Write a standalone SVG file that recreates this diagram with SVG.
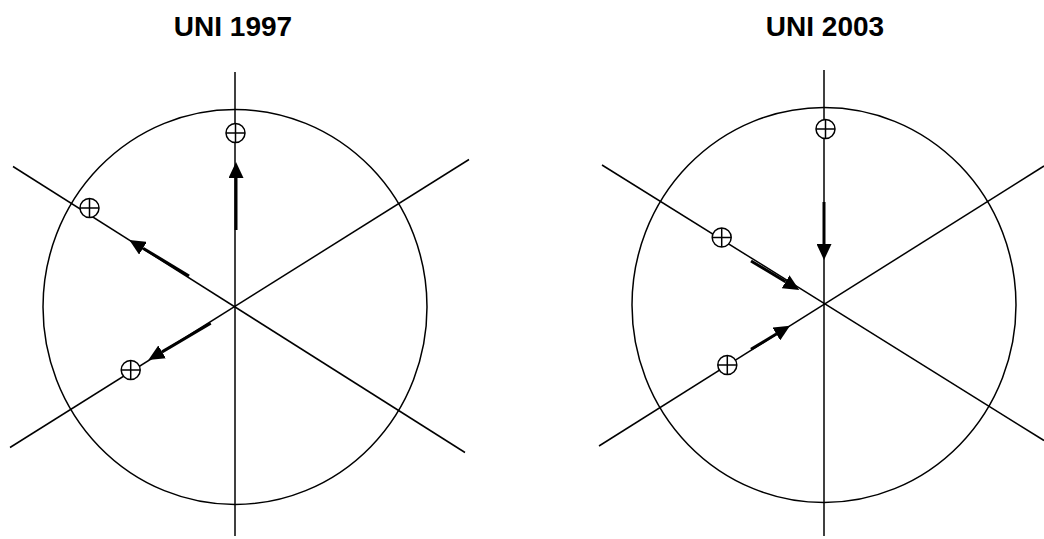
<svg xmlns="http://www.w3.org/2000/svg" xmlns:xlink="http://www.w3.org/1999/xlink" width="1044" height="539" viewBox="0 0 1044 539">
<style>
.title{font-family:"Liberation Sans",Arial,sans-serif;font-weight:bold;font-size:28px;fill:#000;text-anchor:middle}
.ln{stroke:#000;stroke-width:1.5;fill:none}
.shaft{stroke:#000;stroke-width:3;fill:none;marker-end:url(#head)}
.pole circle{fill:#fff;stroke:#000;stroke-width:1.5}
.pole path{stroke:#000;stroke-width:1.5;fill:none}
</style>
<defs>
<marker id="head" markerUnits="userSpaceOnUse" markerWidth="16" markerHeight="15" refX="0" refY="7.5" orient="auto" viewBox="0 0 16 15">
<path d="M0,0 L16,7.5 L0,15 z" fill="#000"/>
</marker>
<g id="plus" class="pole">
<circle cx="0" cy="0" r="9.5"/>
<path d="M-9.5,0 H9.5 M0,-9.5 V9.5"/>
</g>
</defs>
<text class="title" x="233" y="36">UNI 1997</text>
<text class="title" x="825" y="36">UNI 2003</text>
<g id="left-diagram">
<ellipse class="ln" cx="235" cy="307" rx="192" ry="197.5"/>
<line class="ln" x1="235" y1="72" x2="235" y2="536"/>
<line class="ln" x1="13" y1="166.5" x2="465" y2="452.5"/>
<line class="ln" x1="10" y1="447.5" x2="469" y2="159.5"/>
</g>
<g id="right-diagram">
<ellipse class="ln" cx="824" cy="305" rx="192" ry="197.5"/>
<line class="ln" x1="824" y1="70" x2="824" y2="536"/>
<line class="ln" x1="602" y1="165" x2="1044" y2="440.5"/>
<line class="ln" x1="599" y1="446" x2="1044" y2="166"/>
</g>
<g id="connectors">
<line class="shaft" x1="236" y1="230" x2="236" y2="178"/>
<line class="shaft" x1="189" y1="276" x2="143" y2="248.2"/>
<line class="shaft" x1="210.7" y1="323.3" x2="162.1" y2="351.9"/>
<line class="shaft" x1="824" y1="202" x2="824" y2="244"/>
<line class="shaft" x1="751" y1="261" x2="785.6" y2="281.8"/>
<line class="shaft" x1="751" y1="349.3" x2="776.3" y2="334"/>
</g>
<g id="pole-l1"><use xlink:href="#plus" x="235.5" y="133"/></g>
<g id="pole-l2"><use xlink:href="#plus" x="89.5" y="208"/></g>
<g id="pole-l3"><use xlink:href="#plus" x="130.7" y="370"/></g>
<g id="pole-r1"><use xlink:href="#plus" x="825.5" y="129"/></g>
<g id="pole-r2"><use xlink:href="#plus" x="721.7" y="237.5"/></g>
<g id="pole-r3"><use xlink:href="#plus" x="727.3" y="365"/></g>
</svg>
